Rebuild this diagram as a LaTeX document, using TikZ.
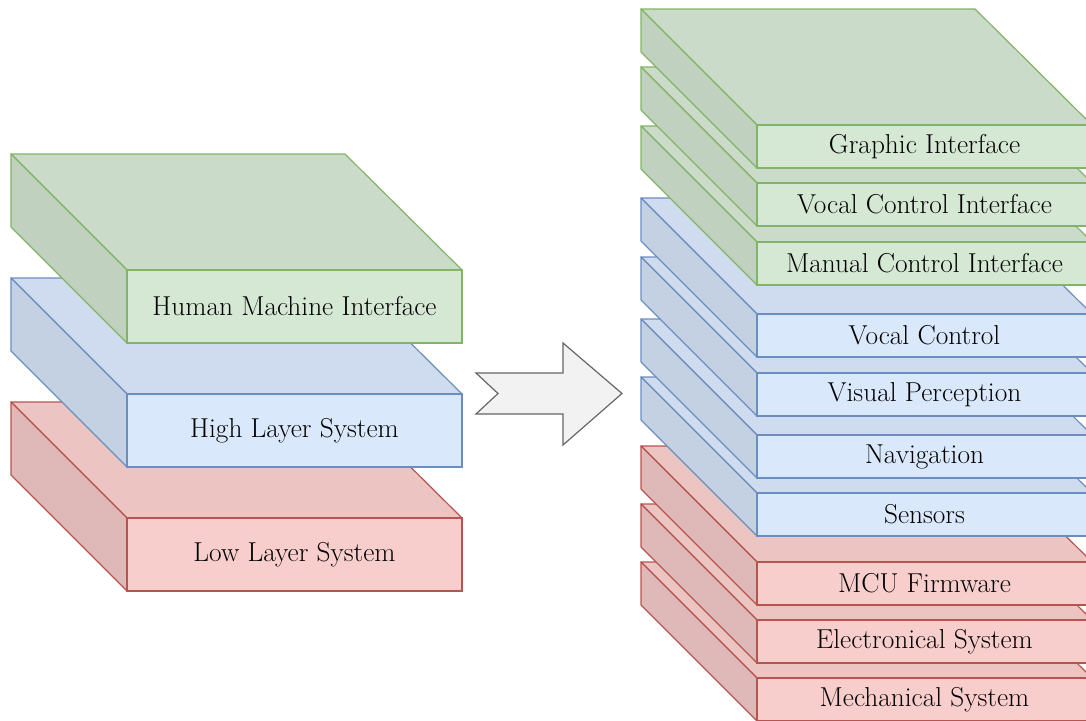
\documentclass[tikz,border=0pt]{standalone}
\definecolor{gfill}{HTML}{D5E8D4}
\definecolor{gline}{HTML}{82B366}
\definecolor{bfill}{HTML}{DAE8FC}
\definecolor{bline}{HTML}{6C8EBF}
\definecolor{rfill}{HTML}{F8CECC}
\definecolor{rline}{HTML}{B85450}
\definecolor{afill}{HTML}{F2F2F2}
\definecolor{aline}{HTML}{666666}
% #1 name, #2 X, #3 Y (back-left top corner), #4 front height, #5 colour prefix, #6 text
\newcommand{\layerbox}[6]{%
  \filldraw[facestyle, fill=#5fill!95!black, draw=#5line] (#2,#3) -- ++(334,0) -- ++(117,116) -- ++(-335,0) -- cycle;
  \filldraw[facestyle, fill=#5fill!90!black, draw=#5line] (#2,#3) -- ++(116,116) -- ++(0,#4) -- ++(-116,-116) -- cycle;
  \node[frontface, fill=#5fill, draw=#5line, minimum height=#4*0.75pt] (#1) at ([shift={(116,116)}]#2,#3) {#6};
}
\begin{document}
\begin{tikzpicture}[x=0.75pt,y=-0.75pt,
  facestyle/.style={line width=0.9pt, line join=round},
  frontface/.style={anchor=north west, line width=0.9pt, inner sep=0pt, outer sep=0pt,
    minimum width=335*0.75pt, font=\fontsize{20.5}{24}\selectfont, text=black},
  bigarrow/.style={fill=afill, draw=aline, line width=0.9pt, line join=miter}]
\useasboundingbox (0,0) rectangle (1086,721);
\clip (0,0) rectangle (1086,721);
% left stack
\layerbox{low}{11}{402}{73}{r}{Low Layer System}
\layerbox{high}{11}{278}{73}{b}{High Layer System}
\layerbox{hmi}{11}{154}{73}{g}{Human Machine Interface}
% arrow
\draw[bigarrow] (476,373) -- (563,373) -- (563,343) -- (622,393.5) -- (563,445) -- (563,414) -- (476,414) -- (498,393.5) -- cycle;
% right stack
\layerbox{mech}{641}{562}{43}{r}{Mechanical System}
\layerbox{elec}{641}{504}{43}{r}{Electronical System}
\layerbox{mcu}{641}{446}{43}{r}{MCU Firmware}
\layerbox{sens}{641}{377}{43}{b}{Sensors}
\layerbox{nav}{641}{319}{43}{b}{Navigation}
\layerbox{vis}{641}{257}{43}{b}{Visual Perception}
\layerbox{voc}{641}{198}{43}{b}{Vocal Control}
\layerbox{mci}{641}{126}{43}{g}{Manual Control Interface}
\layerbox{vci}{641}{67}{43}{g}{Vocal Control Interface}
\layerbox{gi}{641}{9}{43}{g}{Graphic Interface}
\end{tikzpicture}
\end{document}
